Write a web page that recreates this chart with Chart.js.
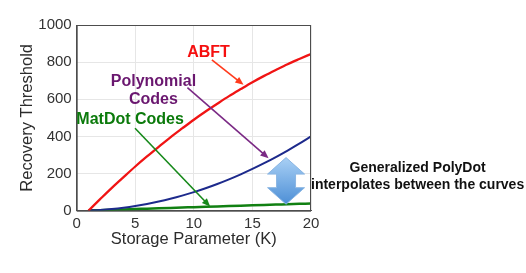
<!DOCTYPE html>
<html>
<head>
<meta charset="utf-8">
<script src="https://cdn.jsdelivr.net/npm/chart.js@4"></script>
<style>
  html, body { margin: 0; padding: 0; background: #fff; }
  #wrap { width: 526px; height: 273px; }
</style>
</head>
<body>
<div id="wrap"><canvas id="recoveryChart" width="526" height="273"></canvas></div>
<script>
// storage parameter K
const kValues = [1, 2, 3, 4, 5, 6, 7, 8, 9, 10, 11, 12, 13, 14, 15, 16, 17, 18, 19, 20]
// recovery threshold
const abft = [0, 62, 123, 181, 238, 292, 344, 395, 443, 490, 534, 576, 617, 655, 692, 726, 758, 789, 817, 844]
const polynomial = [1, 4, 9, 16, 25, 36, 49, 64, 81, 100, 121, 144, 169, 196, 225, 256, 289, 324, 361, 400]
const matdot = [1, 3, 5, 7, 9, 11, 13, 15, 17, 19, 21, 23, 25, 27, 29, 31, 33, 35, 37, 39]
const xTicks = [0, 5, 10, 15, 20]
const yTicks = [0, 200, 400, 600, 800, 1000]

// labels and arrows, in data units
const notes = [
  { text: 'ABFT', color: '#f50f0f', x: 11.25, y: 852 },
  { text: 'Polynomial', color: '#6a176f', x: 6.55, y: 697 },
  { text: 'Codes', color: '#6a176f', x: 6.55, y: 599 },
  { text: 'MatDot Codes', color: '#0b7a0b', x: 4.56, y: 489 }
]
const arrows = [
  { color: '#ff3a1c', from: [11.54, 812], to: [14.24, 678] },
  { color: '#7b2a85', from: [9.45, 663], to: [16.38, 282] },
  { color: '#16891a', from: [4.98, 444], to: [11.39, 22] }
]
const gap = { x: 17.87, top: 286, bottom: 35 }
const sideText = ['Generalized PolyDot', 'interpolates between the curves']

const toPts = vals => vals.map((v, i) => ({ x: kValues[i], y: v }))

function arrowHead(ctx, x1, y1, x2, y2, size) {
  const ang = Math.atan2(y2 - y1, x2 - x1)
  ctx.beginPath()
  ctx.moveTo(x2, y2)
  ctx.lineTo(x2 - size * Math.cos(ang - 0.4), y2 - size * Math.sin(ang - 0.4))
  ctx.lineTo(x2 - size * Math.cos(ang + 0.4), y2 - size * Math.sin(ang + 0.4))
  ctx.closePath()
  ctx.fill()
}

const notesPlugin = {
  id: 'notes',
  afterDraw(chart) {
    const { ctx, chartArea: a, scales: { x, y } } = chart
    ctx.save()
    // matlab style box
    ctx.strokeStyle = '#4d4d4d'
    ctx.lineWidth = 1
    ctx.strokeRect(a.left + 0.5, a.top + 0.5, a.right - a.left - 1, a.bottom - a.top)

    ctx.font = 'bold 16px "Liberation Sans", Arial, sans-serif'
    ctx.textAlign = 'center'
    ctx.textBaseline = 'middle'
    notes.forEach(n => {
      ctx.fillStyle = n.color
      ctx.fillText(n.text, x.getPixelForValue(n.x), y.getPixelForValue(n.y))
    })

    arrows.forEach(ar => {
      const x1 = x.getPixelForValue(ar.from[0]), y1 = y.getPixelForValue(ar.from[1])
      const x2 = x.getPixelForValue(ar.to[0]), y2 = y.getPixelForValue(ar.to[1])
      const ang = Math.atan2(y2 - y1, x2 - x1)
      ctx.strokeStyle = ar.color
      ctx.fillStyle = ar.color
      ctx.lineWidth = 1.6
      ctx.beginPath()
      ctx.moveTo(x1, y1)
      ctx.lineTo(x2 - 4 * Math.cos(ang), y2 - 4 * Math.sin(ang))
      ctx.stroke()
      arrowHead(ctx, x1, y1, x2, y2, 9)
    })

    // double headed block arrow
    const cx = x.getPixelForValue(gap.x)
    const top = y.getPixelForValue(gap.top)
    const bot = y.getPixelForValue(gap.bottom)
    const hw = 18.5, sw = 9.5, hh = 16.5
    const grad = ctx.createLinearGradient(0, top, 0, bot)
    grad.addColorStop(0, '#a9d0f5')
    grad.addColorStop(1, '#4d8fd6')
    ctx.fillStyle = grad
    ctx.strokeStyle = '#8bb6e3'
    ctx.lineWidth = 1
    ctx.beginPath()
    ctx.moveTo(cx, top)
    ctx.lineTo(cx + hw, top + hh)
    ctx.lineTo(cx + sw, top + hh)
    ctx.lineTo(cx + sw, bot - hh)
    ctx.lineTo(cx + hw, bot - hh)
    ctx.lineTo(cx, bot)
    ctx.lineTo(cx - hw, bot - hh)
    ctx.lineTo(cx - sw, bot - hh)
    ctx.lineTo(cx - sw, top + hh)
    ctx.lineTo(cx - hw, top + hh)
    ctx.closePath()
    ctx.fill()
    ctx.stroke()

    // side note
    ctx.fillStyle = '#111'
    ctx.font = 'bold 14px "Liberation Sans", Arial, sans-serif'
    ctx.fillText(sideText[0], x.getPixelForValue(29.1), y.getPixelForValue(229))
    ctx.fillText(sideText[1], x.getPixelForValue(29.1), y.getPixelForValue(138))
    ctx.restore()
  }
}

const ctx = document.getElementById('recoveryChart').getContext('2d')
const tickFont = { family: '"Liberation Sans", Arial, sans-serif', size: 15 }
const titleFont = { family: '"Liberation Sans", Arial, sans-serif', size: 16.5 }

new Chart(ctx, {
  type: 'line',
  data: {
    datasets: [
      { label: 'ABFT', data: toPts(abft), borderColor: '#f01414', borderWidth: 2.3 },
      { label: 'Polynomial Codes', data: toPts(polynomial), borderColor: '#1d2a8c', borderWidth: 2 },
      { label: 'MatDot Codes', data: toPts(matdot), borderColor: '#118012', borderWidth: 2.5 }
    ]
  },
  options: {
    responsive: false,
    animation: false,
    events: [],
    layout: { padding: { top: 25, right: 215, left: 0, bottom: 0 } },
    elements: { point: { radius: 0 }, line: { tension: 0.4, cubicInterpolationMode: 'monotone' } },
    plugins: { legend: { display: false }, tooltip: { enabled: false } },
    scales: {
      x: {
        type: 'linear',
        min: 0,
        max: 20,
        afterFit: s => { s.height = 62.3 },
        afterBuildTicks: s => { s.ticks = xTicks.map(v => ({ value: v })) },
        grid: { color: '#e6e6e6', drawTicks: false },
        border: { color: '#4d4d4d' },
        ticks: { color: '#333', font: tickFont, padding: 4, maxRotation: 0, callback: v => String(v) },
        title: { display: true, text: 'Storage Parameter (K)', color: '#2b2b2b', font: titleFont, padding: { top: 0, bottom: 24 } }
      },
      y: {
        min: 0,
        max: 1000,
        afterFit: s => { s.width = 76.7 },
        afterBuildTicks: s => { s.ticks = yTicks.map(v => ({ value: v })) },
        grid: { color: '#e6e6e6', drawTicks: false },
        border: { color: '#4d4d4d' },
        ticks: { color: '#333', font: tickFont, padding: 5, callback: v => String(v) },
        title: { display: true, text: 'Recovery Threshold', color: '#2b2b2b', font: titleFont, padding: { top: 18, bottom: 0 } }
      }
    }
  },
  plugins: [notesPlugin]
})
</script>
</body>
</html>
